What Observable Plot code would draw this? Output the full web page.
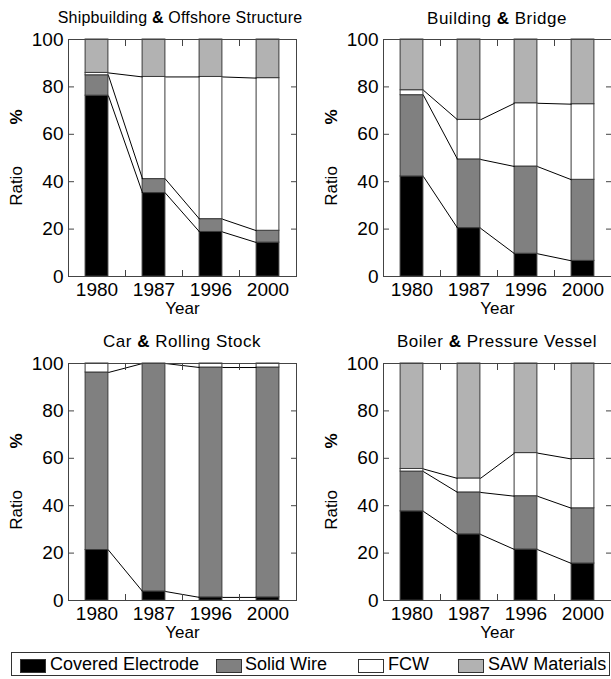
<!DOCTYPE html>
<html><head><meta charset="utf-8">
<script src="https://cdn.jsdelivr.net/npm/d3@7"></script>
<script src="https://cdn.jsdelivr.net/npm/@observablehq/plot@0.6"></script>
<style>
body{margin:0;background:#fff;}
#root{position:relative;width:611px;height:679px;overflow:hidden;font-family:"Liberation Sans",Arial,sans-serif;color:#000;background:#fff;}
.title{position:absolute;width:340px;text-align:center;white-space:nowrap;line-height:1;}
.panel{position:absolute;}
.legend{position:absolute;left:11px;top:652px;width:599px;height:24px;border:1px solid #333;box-sizing:border-box;}
.sw{position:absolute;top:6px;width:26px;height:14px;border:1px solid #333;box-sizing:border-box;}
.lt{position:absolute;top:0;height:22px;line-height:22px;font-size:18px;white-space:nowrap;}
</style></head><body><div id="root"></div>
<script>
const years = ["1980", "1987", "1996", "2000"];
const materials = ["Covered Electrode", "Solid Wire", "FCW", "SAW Materials"];

// Shipbuilding & Offshore Structure
const shipCE  = [76.3, 35.2, 18.8, 14.3];
const shipSW  = [8.6, 5.9, 5.4, 5.0];
const shipFCW = [1.0, 43.1, 60.0, 64.4];
const shipSAW = [14.1, 15.8, 15.8, 16.3];
// Building & Bridge
const bldgCE  = [42.2, 20.4, 9.6, 6.6];
const bldgSW  = [34.3, 29.0, 36.8, 34.2];
const bldgFCW = [2.1, 16.7, 26.7, 31.9];
const bldgSAW = [21.4, 33.9, 26.9, 27.3];
// Car & Rolling Stock
const carCE  = [21.3, 3.8, 1.3, 1.3];
const carSW  = [74.9, 96.2, 97.0, 97.0];
const carFCW = [3.8, 0.0, 1.7, 1.7];
const carSAW = [0.0, 0.0, 0.0, 0.0];
// Boiler & Pressure Vessel
const boilCE  = [37.6, 27.9, 21.5, 15.6];
const boilSW  = [16.8, 17.7, 22.5, 23.3];
const boilFCW = [1.1, 5.9, 18.2, 20.8];
const boilSAW = [44.5, 48.5, 37.8, 40.3];

const panels = [
  {pre: "Shipbuilding", post: "Offshore Structure", series: [shipCE, shipSW, shipFCW, shipSAW]},
  {pre: "Building", post: "Bridge", series: [bldgCE, bldgSW, bldgFCW, bldgSAW]},
  {pre: "Car", post: "Rolling Stock", series: [carCE, carSW, carFCW, carSAW]},
  {pre: "Boiler", post: "Pressure Vessel", series: [boilCE, boilSW, boilFCW, boilSAW]}
];

// layout (not data)
const layout = [
  {left: 0,   top: 0,   width: 305, height: 320, ml: 68, mr: 9, mt: 39, mb: 44, tx: 180, ty: 9.7, fs: 16, ls: 0.2},
  {left: 305, top: 0,   width: 306, height: 320, ml: 78, mr: 0, mt: 39, mb: 44, tx: 497, ty: 10,  fs: 17, ls: 0.5},
  {left: 0,   top: 320, width: 305, height: 330, ml: 68, mr: 9, mt: 43, mb: 50, tx: 182, ty: 332.5, fs: 17, ls: 0.5},
  {left: 305, top: 320, width: 306, height: 330, ml: 78, mr: 0, mt: 43, mb: 50, tx: 497, ty: 332.5, fs: 17, ls: 0.5}
];

const colors = ["#000000", "#808080", "#ffffff", "#b2b2b2"];
const half = 0.2;
const font = '"Liberation Sans", Arial, sans-serif';
const root = document.getElementById("root");

panels.forEach((p, pi) => {
  const L = layout[pi];
  const rects = [];
  const tops = materials.map(() => []);
  years.forEach((yr, i) => {
    let c = 0;
    p.series.forEach((s, k) => {
      rects.push({i, material: materials[k], y1: c, y2: c + s[i]});
      c += s[i];
      tops[k][i] = c;
    });
  });
  const links = [];
  for (let k = 0; k < materials.length - 1; k++) {
    for (let i = 0; i < years.length - 1; i++) {
      links.push({a: i, b: i + 1, ya: tops[k][i], yb: tops[k][i + 1]});
    }
  }
  const idx = years.map((_, i) => i);
  const mids = years.slice(1).map((_, i) => i + 0.5);
  const yt = [0, 20, 40, 60, 80, 100];
  const ytIn = yt.slice(1, -1);

  const svg = Plot.plot({
    width: L.width, height: L.height,
    marginLeft: L.ml, marginRight: L.mr, marginTop: L.mt, marginBottom: L.mb,
    x: {type: "linear", domain: [-0.5, years.length - 0.5]},
    y: {domain: [0, 100]},
    color: {domain: materials, range: colors},
    style: {fontFamily: font, fontSize: "19px", color: "#000", background: "transparent"},
    marks: [
      Plot.rectY(rects, {x1: d => d.i - half, x2: d => d.i + half, y1: "y1", y2: "y2", fill: "material", stroke: "#3a3a3a", strokeWidth: 1}),
      Plot.link(links, {x1: d => d.a + half, x2: d => d.b - half, y1: "ya", y2: "yb", stroke: "#000", strokeWidth: 1}),
      Plot.frame({stroke: "#444"}),
      Plot.axisX({ticks: idx, tickFormat: i => years[i], tickSize: 0, tickPadding: 6, fontSize: 19, label: null}),
      Plot.axisX({anchor: "bottom", ticks: mids, tickSize: -6, fill: "none", stroke: "#444", label: null}),
      Plot.axisX({anchor: "top", ticks: mids, tickSize: -6, fill: "none", stroke: "#444", label: null}),
      Plot.axisY({ticks: yt, tickSize: 0, tickPadding: 5, fontSize: 19, label: null}),
      Plot.axisY({anchor: "left", ticks: ytIn, tickSize: -6, fill: "none", stroke: "#444", label: null}),
      Plot.axisY({anchor: "right", ticks: ytIn, tickSize: -6, fill: "none", stroke: "#444", label: null}),
      Plot.text(["Ratio"], {text: d => d, frameAnchor: "left", textAnchor: "middle", lineAnchor: "middle", dx: -51.5, dy: 28, rotate: -90, fontSize: 17}),
      Plot.text(["%"], {text: d => d, frameAnchor: "left", textAnchor: "middle", lineAnchor: "middle", dx: -51.5, dy: -41, rotate: -90, fontSize: 17, fontWeight: "bold"}),
      Plot.text(["Year"], {text: d => d, frameAnchor: "bottom", textAnchor: "middle", lineAnchor: "middle", dy: 32.5, fontSize: 17})
    ]
  });
  const wrap = document.createElement("div");
  wrap.className = "panel";
  wrap.style.left = L.left + "px";
  wrap.style.top = L.top + "px";
  wrap.appendChild(svg);
  root.appendChild(wrap);

  const t = document.createElement("div");
  t.className = "title";
  t.style.left = (L.tx - 170) + "px";
  t.style.top = L.ty + "px";
  t.style.fontSize = L.fs + "px";
  t.style.letterSpacing = L.ls + "px";
  t.innerHTML = p.pre + " <b>&amp;</b> " + p.post;
  root.appendChild(t);
});

// legend
const legendPos = [{s: 20, t: 50}, {s: 216, t: 245}, {s: 358, t: 388}, {s: 458, t: 488}];
const lg = document.createElement("div");
lg.className = "legend";
materials.forEach((m, k) => {
  const sw = document.createElement("div");
  sw.className = "sw";
  sw.style.left = (legendPos[k].s - 12) + "px";
  sw.style.background = colors[k];
  lg.appendChild(sw);
  const tx = document.createElement("div");
  tx.className = "lt";
  tx.style.left = (legendPos[k].t - 12) + "px";
  tx.textContent = m;
  lg.appendChild(tx);
});
root.appendChild(lg);
</script>
</body></html>
